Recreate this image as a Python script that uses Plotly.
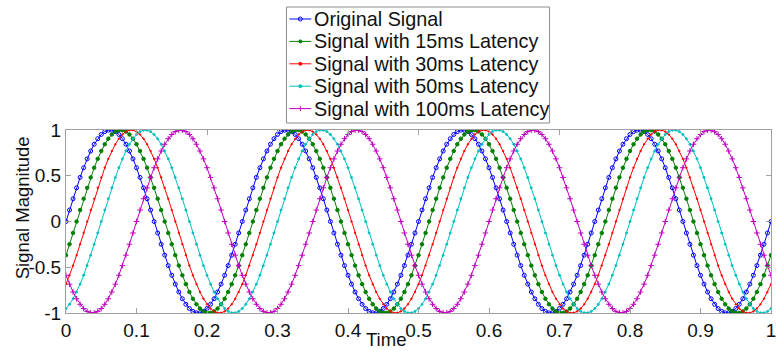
import numpy as np
import plotly.graph_objects as go

# Signal parameters
signal_freq_hz = 4.0
sample_step_s = 0.005
latencies_ms = [0, 15, 30, 50, 100]
series_names = [
    "Original Signal",
    "Signal with 15ms Latency",
    "Signal with 30ms Latency",
    "Signal with 50ms Latency",
    "Signal with 100ms Latency",
]
colors = ["#0000ff", "#008000", "#ff0000", "#00bfbf", "#bf00bf"]
symbols = ["circle-open", "circle", "circle", "circle", "cross-thin"]
marker_sizes = [4, 3.5, 1.5, 2, 4]

x_ticks = [0, 0.1, 0.2, 0.3, 0.4, 0.5, 0.6, 0.7, 0.8, 0.9, 1]
x_tick_text = ["0", "0.1", "0.2", "0.3", "0.4", "0.5", "0.6", "0.7", "0.8", "0.9", "1"]
y_ticks = [-1, -0.5, 0, 0.5, 1]
y_tick_text = ["-1", "-0.5", "0", "0.5", "1"]
x_title = "Time"
y_title = "Signal Magnitude"

W, H = 777, 351
M_L, M_R, M_T, M_B = 66, 1, 130, 38
PLOT_W = W - M_L - M_R
PLOT_H = H - M_T - M_B
FONT = "Liberation Sans, Arial, sans-serif"


def px_x(px):
    """Pixel column -> paper x."""
    return (px - M_L) / PLOT_W


def px_y(py):
    """Pixel row (from top) -> paper y."""
    return (H - M_B - py) / PLOT_H


t = np.arange(0, 1 + sample_step_s / 2, sample_step_s)

fig = go.Figure()
for lat, name, col, sym, ms in zip(latencies_ms, series_names, colors, symbols, marker_sizes):
    y = np.sin(2 * np.pi * signal_freq_hz * (t - lat / 1000.0))
    fig.add_trace(go.Scatter(
        x=t, y=y, mode="lines+markers", name=name, showlegend=False,
        line=dict(color=col, width=1),
        marker=dict(color=col, symbol=sym, size=ms, line=dict(color=col, width=1)),
    ))

# Boxed legend above the axes, MATLAB style
shapes = []
annotations = []
box_l, box_r, box_t, box_b = 288, 553, 7, 123
shapes.append(dict(type="rect", xref="paper", yref="paper",
                   x0=px_x(box_l), x1=px_x(box_r), y0=px_y(box_b), y1=px_y(box_t),
                   line=dict(color="#8c8c8c", width=1), fillcolor="white", layer="above"))
row0, row_gap = 19, 22.4
for i, (name, col, sym) in enumerate(zip(series_names, colors, symbols)):
    cy = row0 + i * row_gap
    shapes.append(dict(type="line", xref="paper", yref="paper",
                       x0=px_x(291), x1=px_x(313), y0=px_y(cy), y1=px_y(cy),
                       line=dict(color=col, width=1), layer="above"))
    mx = 302
    if sym == "cross-thin":
        r = 2.5
        shapes.append(dict(type="line", xref="paper", yref="paper",
                           x0=px_x(mx), x1=px_x(mx), y0=px_y(cy - r), y1=px_y(cy + r),
                           line=dict(color=col, width=1), layer="above"))
    else:
        r = 2 if i == 0 else 1.5
        shapes.append(dict(type="circle", xref="paper", yref="paper",
                           x0=px_x(mx - r), x1=px_x(mx + r), y0=px_y(cy + r), y1=px_y(cy - r),
                           line=dict(color=col, width=1), fillcolor=col if i else "rgba(0,0,0,0)",
                           layer="above"))
    annotations.append(dict(xref="paper", yref="paper", x=px_x(314), y=px_y(cy),
                            xanchor="left", yanchor="middle", showarrow=False, text=name,
                            font=dict(family=FONT, size=19.8, color="#111111")))

# Axis titles
annotations.append(dict(xref="paper", yref="paper", x=px_x(388), y=px_y(351),
                        xanchor="center", yanchor="bottom", showarrow=False, text=x_title,
                        borderpad=0,
                        font=dict(family=FONT, size=18.5, color="#111111")))
annotations.append(dict(xref="paper", yref="paper", x=px_x(22), y=px_y(208),
                        xanchor="center", yanchor="middle", showarrow=False, text=y_title,
                        textangle=-90, font=dict(family=FONT, size=18.5, color="#111111")))

axis_common = dict(
    showgrid=False, zeroline=False, showline=True, mirror="ticks",
    linecolor="#a0a0a0", linewidth=1, ticks="inside", ticklen=5,
    tickcolor="#a0a0a0", ticklabeloverflow="allow",
    tickfont=dict(family=FONT, size=19, color="#111111"),
)

fig.update_layout(
    width=W, height=H,
    margin=dict(l=M_L, r=M_R, t=M_T, b=M_B),
    paper_bgcolor="white", plot_bgcolor="white",
    font=dict(family=FONT, color="#111111"),
    showlegend=False,
    shapes=shapes,
    annotations=annotations,
    xaxis=dict(range=[0, 1], tickvals=x_ticks, ticktext=x_tick_text, **axis_common),
    yaxis=dict(range=[-1, 1], tickvals=y_ticks, ticktext=y_tick_text, **axis_common),
)

fig.write_html("out.html")
